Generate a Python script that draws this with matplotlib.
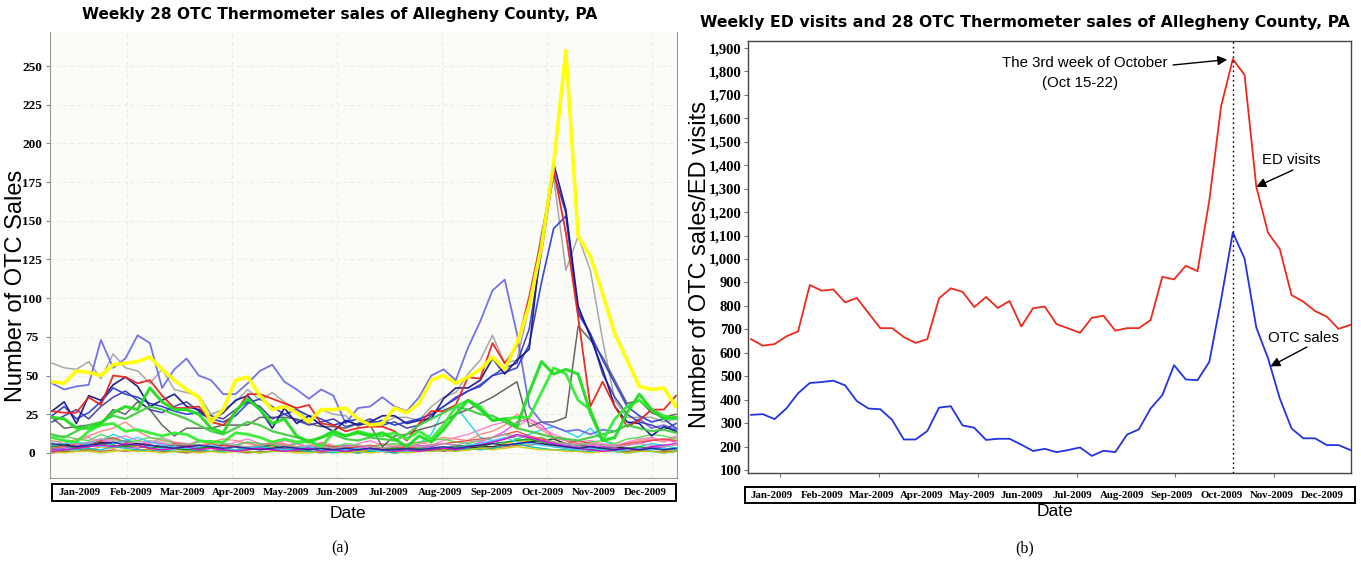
import matplotlib.pyplot as plt
import numpy as np
from matplotlib.ticker import FuncFormatter

W, H = 1361, 562


def px(x, y):
    # figure fraction from pixel position (y measured from top)
    return x / W, 1 - y / H


def box(x0, y0, x1, y1):
    return [x0 / W, 1 - y1 / H, (x1 - x0) / W, (y1 - y0) / H]


months = ['Jan-2009', 'Feb-2009', 'Mar-2009', 'Apr-2009', 'May-2009', 'Jun-2009',
          'Jul-2009', 'Aug-2009', 'Sep-2009', 'Oct-2009', 'Nov-2009', 'Dec-2009']

# ---- panel (a): weekly sales of 28 thermometer products ----
yellow = [46, 45, 53, 52, 50, 57, 58, 59, 62, 54, 47, 41, 36, 20, 28, 47, 49, 37, 28, 30, 26, 20, 28, 28, 29, 22,
          18, 19, 29, 26, 32, 47, 50, 45, 49, 54, 62, 54, 71, 95, 133, 187, 260, 140, 127, 103, 77, 60, 43, 41, 42, 30]
red = [27, 26, 26, 36, 31, 50, 49, 45, 47, 37, 29, 29, 30, 20, 18, 26, 38, 38, 35, 32, 29, 31, 19, 18, 14, 16,
       17, 17, 14, 8, 19, 27, 27, 31, 49, 48, 71, 58, 69, 101, 138, 183, 142, 88, 30, 46, 30, 17, 21, 28, 28, 37]
navy = [27, 33, 19, 37, 34, 44, 49, 43, 30, 34, 38, 30, 28, 21, 26, 34, 37, 28, 16, 29, 19, 24, 18, 14, 21, 18,
        20, 24, 24, 19, 21, 22, 35, 42, 42, 47, 61, 51, 60, 67, 138, 187, 157, 95, 75, 54, 30, 20, 19, 11, 17, 14]
navy2 = [20, 24, 28, 22, 30, 36, 40, 34, 28, 26, 30, 33, 27, 24, 22, 28, 33, 30, 22, 25, 21, 18, 20, 22, 17, 19,
         22, 18, 20, 16, 18, 24, 30, 36, 40, 43, 50, 55, 58, 80, 129, 181, 155, 92, 77, 51, 36, 25, 20, 18, 15, 19]
blue_mid = [24, 30, 22, 26, 33, 42, 38, 36, 32, 30, 27, 25, 26, 22, 20, 24, 32, 35, 30, 25, 28, 24, 22, 18, 20, 22,
            19, 21, 18, 20, 22, 25, 30, 35, 40, 44, 50, 52, 55, 70, 110, 145, 153, 90, 77, 60, 45, 30, 24, 20, 22, 16]
periwinkle = [45, 41, 43, 44, 73, 55, 61, 76, 71, 42, 54, 61, 50, 47, 38, 38, 45, 53, 57, 46, 41, 35, 41, 37, 19, 29,
              30, 36, 30, 27, 36, 50, 54, 47, 68, 85, 105, 112, 77, 30, 20, 17, 14, 15, 12, 15, 14, 18, 22, 16, 18, 15]
light_gray = [58, 55, 54, 59, 48, 64, 55, 53, 45, 54, 41, 39, 37, 25, 28, 33, 41, 34, 39, 33, 28, 21, 28, 25, 24, 17,
              21, 19, 23, 23, 21, 30, 36, 39, 51, 60, 76, 58, 60, 95, 142, 178, 118, 140, 118, 73, 34, 23, 23, 23, 20, 22]
dark_gray = [23, 16, 17, 18, 19, 28, 25, 33, 28, 18, 11, 16, 16, 16, 18, 18, 18, 23, 23, 23, 22, 19, 17, 17, 16, 19,
             18, 4, 11, 12, 15, 17, 20, 25, 28, 32, 36, 41, 46, 17, 20, 20, 23, 82, 73, 62, 47, 32, 34, 26, 23, 25]
green_a = [23, 22, 16, 16, 19, 26, 30, 28, 42, 33, 28, 28, 25, 16, 13, 27, 35, 28, 19, 22, 11, 7, 10, 14, 11, 13,
           11, 13, 9, 4, 11, 7, 15, 25, 34, 28, 21, 22, 17, 39, 59, 51, 54, 51, 26, 8, 10, 26, 38, 28, 22, 23]
green_b = [10, 8, 7, 14, 18, 19, 14, 15, 13, 11, 13, 12, 8, 7, 7, 13, 12, 10, 7, 9, 7, 8, 4, 13, 11, 14,
           12, 11, 13, 9, 14, 9, 18, 30, 34, 30, 21, 22, 23, 23, 39, 55, 51, 34, 28, 8, 22, 30, 34, 28, 24, 22]
green_c = [12, 10, 14, 18, 20, 24, 22, 26, 30, 28, 25, 22, 18, 14, 12, 16, 20, 18, 14, 12, 10, 8, 10, 12, 9, 8,
           10, 9, 8, 12, 18, 22, 26, 30, 28, 25, 24, 20, 16, 14, 12, 10, 9, 8, 10, 12, 14, 18, 16, 14, 15, 13]

cyan = [3, 2, 4, 6, 8, 12, 9, 6, 4, 3, 2, 3, 5, 3, 2, 1, 3, 4, 5, 3, 2, 4, 6, 3, 2, 1,
        2, 3, 4, 2, 6, 12, 28, 30, 20, 10, 8, 6, 9, 12, 15, 17, 14, 10, 16, 8, 5, 3, 4, 6, 5, 3]
magenta = [4, 5, 3, 7, 9, 6, 8, 5, 7, 6, 4, 5, 3, 4, 6, 5, 7, 4, 3, 5, 6, 4, 2, 3, 5, 4,
           3, 2, 4, 3, 5, 4, 6, 5, 4, 7, 10, 14, 20, 22, 18, 10, 8, 6, 5, 4, 3, 5, 6, 8, 9, 7]
pink = [6, 4, 8, 10, 7, 9, 11, 8, 6, 10, 7, 5, 8, 6, 4, 7, 9, 6, 5, 8, 6, 4, 7, 5, 3, 6,
        8, 5, 4, 6, 7, 5, 8, 10, 12, 15, 18, 20, 17, 22, 16, 12, 9, 7, 8, 6, 5, 7, 9, 10, 8, 11]
salmon = [8, 6, 9, 11, 14, 16, 20, 14, 10, 8, 7, 6, 5, 7, 9, 8, 6, 5, 7, 6, 4, 5, 6, 4, 3, 5,
          4, 6, 5, 4, 6, 8, 10, 9, 8, 12, 14, 18, 25, 20, 15, 10, 8, 6, 7, 5, 4, 6, 8, 9, 7, 10]
orange = [2, 1, 3, 2, 4, 3, 5, 4, 3, 2, 3, 1, 2, 3, 2, 1, 2, 3, 4, 2, 1, 2, 3, 2, 1, 2,
          1, 2, 3, 2, 1, 3, 2, 4, 3, 5, 4, 6, 8, 7, 10, 6, 4, 3, 2, 3, 2, 1, 2, 3, 2, 1]
black = [5, 6, 4, 5, 7, 6, 8, 6, 5, 4, 5, 4, 3, 4, 5, 4, 3, 4, 5, 3, 4, 3, 2, 3, 4, 3,
         2, 3, 2, 3, 2, 3, 2, 3, 3, 4, 4, 5, 6, 7, 8, 9, 6, 5, 4, 3, 4, 3, 2, 3, 3, 2]
brown = [0, 1, 1, 2, 1, 2, 1, 2, 2, 1, 1, 0, 1, 1, 2, 1, 0, 1, 1, 2, 1, 1, 0, 1, 1, 0,
         1, 1, 0, 1, 1, 2, 1, 2, 2, 3, 3, 4, 5, 5, 6, 4, 3, 2, 2, 1, 1, 1, 2, 1, 1, 1]
teal = [1, 2, 2, 3, 2, 4, 3, 2, 1, 2, 1, 1, 2, 1, 1, 2, 1, 0, 1, 1, 2, 1, 1, 0, 1, 0,
        1, 1, 0, 1, 2, 1, 2, 1, 3, 2, 3, 5, 6, 4, 3, 2, 2, 1, 1, 2, 1, 0, 1, 1, 0, 1]
green_thin = [10, 11, 9, 8, 12, 9, 7, 8, 10, 9, 6, 5, 7, 8, 6, 5, 7, 6, 5, 4, 6, 7, 5, 4, 6, 5,
              4, 5, 6, 5, 7, 8, 9, 7, 6, 8, 10, 12, 9, 8, 10, 7, 6, 5, 7, 8, 6, 9, 10, 12, 11, 9]
red_low = [3, 4, 6, 5, 8, 10, 7, 6, 5, 4, 6, 5, 4, 6, 5, 4, 3, 5, 6, 5, 4, 3, 5, 4, 3, 4,
           5, 3, 4, 3, 4, 5, 6, 7, 8, 9, 10, 12, 14, 11, 9, 7, 6, 8, 6, 5, 4, 6, 7, 8, 9, 8]
purple = [2, 3, 5, 4, 6, 5, 4, 3, 5, 4, 3, 2, 3, 4, 3, 2, 4, 3, 2, 3, 2, 3, 4, 2, 3, 2,
          3, 2, 3, 2, 3, 4, 3, 5, 4, 6, 7, 9, 11, 10, 8, 6, 5, 4, 3, 4, 3, 2, 3, 4, 3, 2]
olive = [1, 0, 1, 1, 0, 1, 2, 1, 1, 0, 1, 1, 0, 1, 0, 1, 1, 0, 1, 1, 0, 0, 1, 1, 0, 1,
         0, 1, 1, 0, 1, 1, 2, 1, 2, 3, 2, 3, 4, 3, 2, 2, 1, 1, 0, 1, 1, 0, 1, 1, 0, 1]
gray_low = [7, 8, 6, 7, 9, 8, 6, 7, 8, 7, 5, 6, 5, 4, 6, 5, 4, 5, 6, 5, 4, 5, 4, 3, 4, 5,
            4, 3, 4, 5, 4, 5, 6, 5, 7, 8, 10, 12, 11, 9, 8, 7, 6, 5, 6, 5, 4, 5, 6, 5, 4, 5]
dark_green = [4, 5, 3, 4, 6, 5, 4, 5, 3, 4, 3, 2, 3, 4, 3, 2, 3, 4, 3, 2, 3, 2, 3, 2, 1, 2,
              3, 2, 3, 2, 3, 2, 3, 4, 5, 4, 6, 7, 8, 9, 7, 5, 4, 3, 2, 3, 2, 3, 4, 3, 2, 3]
cyan2 = [5, 6, 7, 5, 4, 6, 8, 10, 7, 5, 4, 3, 4, 5, 3, 2, 3, 4, 3, 2, 3, 4, 2, 1, 2, 3,
         2, 1, 2, 1, 2, 3, 4, 3, 5, 6, 8, 10, 7, 6, 5, 4, 3, 2, 3, 2, 1, 2, 3, 2, 3, 2]
magenta2 = [1, 2, 3, 4, 5, 4, 6, 5, 3, 2, 3, 4, 2, 3, 2, 1, 2, 3, 2, 1, 2, 3, 1, 2, 1, 2,
            3, 2, 1, 2, 1, 2, 3, 2, 4, 5, 7, 9, 12, 10, 8, 6, 4, 3, 2, 1, 2, 3, 2, 4, 5, 6]
navy_low = [6, 5, 4, 5, 6, 7, 5, 6, 5, 4, 3, 4, 5, 4, 3, 4, 3, 2, 3, 4, 3, 2, 3, 2, 3, 2,
            3, 2, 2, 3, 2, 3, 4, 3, 4, 5, 6, 5, 6, 7, 6, 5, 4, 3, 4, 3, 2, 3, 2, 3, 2, 3]

# ---- panel (b): weekly totals ----
ed_visits = [658, 630, 637, 670, 691, 889, 865, 870, 815, 834, 769, 705, 705, 667, 642, 658, 832, 875, 860, 795,
             838, 791, 821, 712, 790, 797, 722, 704, 685, 749, 758, 694, 705, 705, 739, 924, 913, 971, 948, 1250,
             1650, 1853, 1785, 1308, 1112, 1042, 846, 818, 778, 754, 702, 719]
otc_sales = [335, 338, 317, 362, 427, 471, 475, 481, 461, 394, 362, 359, 314, 230, 230, 266, 366, 372, 290, 280,
             228, 233, 233, 208, 181, 190, 176, 185, 196, 160, 182, 176, 251, 273, 362, 419, 547, 486, 483, 561,
             825, 1113, 1002, 708, 576, 405, 277, 235, 235, 206, 206, 185]
peak_week = 41

low_lines = [(cyan, '#00d8e8'), (magenta, '#ff33ff'), (pink, '#ff77cc'), (salmon, '#ff7f7f'),
             (orange, '#ff9900'), (black, '#222222'), (brown, '#aa6633'), (teal, '#00bbbb'),
             (green_thin, '#44dd44'), (red_low, '#ee4444'), (purple, '#aa44dd'), (olive, '#cccc00'),
             (gray_low, '#aaaaaa'), (dark_green, '#119911'), (cyan2, '#33ccff'), (magenta2, '#dd00dd'),
             (navy_low, '#222299')]
mid_lines = [(light_gray, '#a3a3a3', 1.1), (dark_gray, '#5e5e5e', 1.1), (periwinkle, '#6c6ce8', 1.3),
             (navy2, '#3a3aaa', 1.1), (blue_mid, '#2b3fd8', 1.2), (navy, '#16168f', 1.2),
             (red, '#e8221c', 1.3), (green_c, '#44cc44', 1.6), (green_b, '#33ee33', 2.0),
             (green_a, '#22dd22', 2.2), (yellow, '#ffff00', 2.6)]

serif = 'Liberation Serif'
sans = 'Liberation Sans'

fig = plt.figure(figsize=(W / 100, H / 100), dpi=100)

# ================= panel (a) =================
ax1 = fig.add_axes(box(50, 32, 677, 478))
ax1.set_facecolor('#fbfbf8')
for vals, col in low_lines:
    ax1.plot(np.arange(len(vals)), vals, color=col, lw=1.0, alpha=0.9)
for vals, col, lw in mid_lines:
    ax1.plot(np.arange(len(vals)), vals, color=col, lw=lw, alpha=0.95)

ax1.set_xlim(-0.16, 51.08)
ax1.set_ylim(-16.2, 272)
ax1.set_yticks(np.arange(0, 251, 25))
ax1.set_yticklabels([str(v) for v in range(0, 251, 25)], fontfamily=serif, fontweight='bold', fontsize=9.5)
for lab in ax1.get_yticklabels():
    lab.set_ha('center')
ax1.tick_params(axis='y', length=3, pad=10, color='#888888')
ax1.set_xticks(np.arange(6.1, 51, 8.58))
ax1.tick_params(axis='x', length=0, labelbottom=False)
ax1.grid(True, color='#e9e9e6', ls=(0, (3, 3)), lw=0.8)
for side in ['left', 'right', 'bottom']:
    ax1.spines[side].set_color('#999999')
ax1.spines['top'].set_visible(False)

fig.text(*px(340, 15), 'Weekly 28 OTC Thermometer sales of Allegheny County, PA', ha='center', va='center',
         fontsize=11.1, fontweight='bold', family='DejaVu Sans')
fig.text(*px(16, 286), 'Number of OTC Sales', rotation=90, ha='center', va='center', fontsize=17, family=sans)

# month label strip
axm1 = fig.add_axes(box(52, 484, 676, 501))
axm1.set_xticks([])
axm1.set_yticks([])
for s in axm1.spines.values():
    s.set_linewidth(1.4)
for k, m in enumerate(months):
    axm1.text((80 + 51.4 * k - 52) / (676 - 52), 0.5, m, ha='center', va='center', fontsize=7.8,
              fontweight='bold', family=serif)
fig.text(*px(348, 513), 'Date', ha='center', va='center', fontsize=12.5, family=sans)
fig.text(*px(340, 548), '(a)', ha='center', va='center', fontsize=11.5, family=serif)

# ================= panel (b) =================
ax2 = fig.add_axes(box(748, 41, 1351, 473))
wk = np.arange(len(ed_visits))
ax2.plot(wk, ed_visits, color='#ee2a1f', lw=1.3)
ax2.plot(wk, otc_sales, color='#2233e0', lw=1.3)
ax2.axvline(peak_week, color='black', ls=(0, (1.2, 2.2)), lw=1.0)

ax2.set_xlim(-0.26, 51.06)
ax2.set_ylim(87, 1930)
ax2.set_yticks(np.arange(100, 1901, 100))
ax2.yaxis.set_major_formatter(FuncFormatter(lambda v, p: f'{int(v):,}'))
for lab in ax2.get_yticklabels():
    lab.set_fontfamily(serif)
    lab.set_fontweight('bold')
    lab.set_fontsize(10.5)
ax2.tick_params(axis='y', length=3, pad=1.5, color='#777777')
ax2.set_xticks(np.arange(2.5, 51, 8.4))
ax2.tick_params(axis='x', length=3, color='#777777', labelbottom=False)
for s in ax2.spines.values():
    s.set_color('#444444')
    s.set_linewidth(1.0)

arrow = dict(arrowstyle='-|>', color='black', lw=1.0, mutation_scale=14)
ax2.annotate('', xy=(peak_week, ed_visits[peak_week]), xytext=(1173, H - 65), textcoords='figure pixels',
             arrowprops=dict(arrow, shrinkA=0, shrinkB=4))
ax2.text(1085, H - 63, 'The 3rd week of October', transform=None, ha='center', va='center',
         fontsize=10.8, family=sans)
ax2.text(1080, H - 83, '(Oct 15-22)', transform=None, ha='center', va='center', fontsize=10.8, family=sans)
ax2.annotate('', xy=(43, ed_visits[43]), xytext=(1293, H - 170), textcoords='figure pixels',
             arrowprops=dict(arrow, shrinkA=0, shrinkB=0))
ax2.text(1291, H - 160, 'ED visits', transform=None, ha='center', va='center', fontsize=10.8, family=sans)
otc_xy = (44.2, otc_sales[44] + 0.2 * (otc_sales[45] - otc_sales[44]))
ax2.annotate('', xy=otc_xy, xytext=(1307, H - 347), textcoords='figure pixels',
             arrowprops=dict(arrow, shrinkA=0, shrinkB=0))
ax2.text(1303, H - 338, 'OTC sales', transform=None, ha='center', va='center', fontsize=10.8, family=sans)

fig.text(*px(1025, 22), 'Weekly ED visits and 28 OTC Thermometer sales of Allegheny County, PA', ha='center',
         va='center', fontsize=11.3, fontweight='bold', family='DejaVu Sans')
fig.text(*px(700, 265), 'Number of OTC sales/ED visits', rotation=90, ha='center', va='center', fontsize=17,
         family=sans)

axm2 = fig.add_axes(box(745, 487, 1355, 503))
axm2.set_xticks([])
axm2.set_yticks([])
for s in axm2.spines.values():
    s.set_linewidth(1.4)
for k, m in enumerate(months):
    axm2.text((772 + 50 * k - 745) / (1355 - 745), 0.5, m, ha='center', va='center', fontsize=7.8,
              fontweight='bold', family=serif)
fig.text(*px(1055, 512), 'Date', ha='center', va='center', fontsize=12.5, family=sans)
fig.text(*px(1025, 548), '(b)', ha='center', va='center', fontsize=11.5, family=serif)

fig.savefig('out.png', dpi=100)
